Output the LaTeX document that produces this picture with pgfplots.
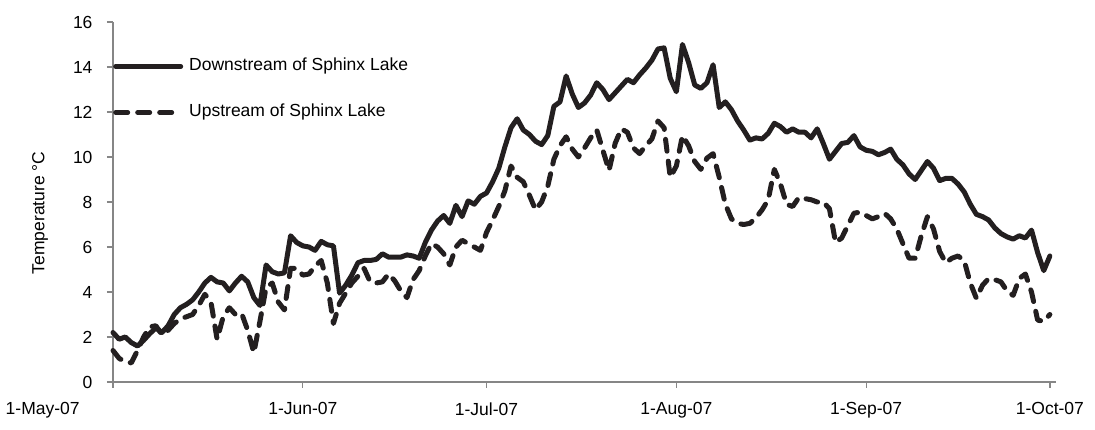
\documentclass[border=0pt]{standalone}
\usepackage{pgfplots}
\pgfplotsset{compat=1.18}
\usepackage{pgfplotstable}
\usepackage{fontspec}
\setmainfont{Liberation Sans}
\definecolor{axisgray}{RGB}{134,134,134}
\definecolor{ink}{RGB}{35,31,32}
\pgfplotstableread{
d down
0 2.2
1 1.9
2 2.0
3 1.75
4 1.6
5 1.85
6 2.15
7 2.4
8 2.2
9 2.5
10 3.0
11 3.3
12 3.45
13 3.65
14 4.0
15 4.4
16 4.65
17 4.45
18 4.4
19 4.05
20 4.4
21 4.7
22 4.45
23 3.75
24 3.4
25 5.2
26 4.9
27 4.8
28 4.85
29 6.5
30 6.2
31 6.05
32 6.0
33 5.85
34 6.25
35 6.1
36 6.05
37 3.95
38 4.3
39 4.75
40 5.3
41 5.4
42 5.4
43 5.45
44 5.7
45 5.55
46 5.55
47 5.55
48 5.65
49 5.6
50 5.5
51 6.2
52 6.75
53 7.15
54 7.4
55 7.05
56 7.85
57 7.35
58 8.05
59 7.9
60 8.25
61 8.4
62 8.9
63 9.5
64 10.45
65 11.3
66 11.7
67 11.2
68 11.0
69 10.7
70 10.55
71 10.95
72 12.25
73 12.45
74 13.6
75 12.8
76 12.2
77 12.4
78 12.75
79 13.3
80 13.0
81 12.55
82 12.85
83 13.15
84 13.45
85 13.3
86 13.65
87 13.95
88 14.3
89 14.8
90 14.85
91 13.5
92 12.9
93 15.0
94 14.2
95 13.2
96 13.05
97 13.3
98 14.1
99 12.2
100 12.45
101 12.1
102 11.6
103 11.2
104 10.75
105 10.85
106 10.8
107 11.05
108 11.5
109 11.35
110 11.1
111 11.25
112 11.1
113 11.1
114 10.85
115 11.25
116 10.6
117 9.9
118 10.25
119 10.6
120 10.65
121 10.95
122 10.45
123 10.3
124 10.25
125 10.1
126 10.2
127 10.35
128 9.9
129 9.65
130 9.25
131 9.0
132 9.4
133 9.8
134 9.5
135 8.95
136 9.05
137 9.05
138 8.8
139 8.45
140 7.9
141 7.45
142 7.35
143 7.2
144 6.85
145 6.6
146 6.45
147 6.35
148 6.5
149 6.4
150 6.75
151 5.75
152 4.95
153 5.6
}\downdata
\pgfplotstableread{
d up
0 1.4
1 1.05
2 0.9
3 0.85
4 1.4
5 2.0
6 2.45
7 2.5
8 2.1
9 2.3
10 2.6
11 2.8
12 2.9
13 3.0
14 3.4
15 3.9
16 3.55
17 1.9
18 2.9
19 3.3
20 3.0
21 3.05
22 2.3
23 1.3
24 2.7
25 4.2
26 4.4
27 3.55
28 3.2
29 5.05
30 5.05
31 4.75
32 4.8
33 5.15
34 5.4
35 4.4
36 2.6
37 3.5
38 3.95
39 4.4
40 4.7
41 5.05
42 4.45
43 4.4
44 4.45
45 4.8
46 4.5
47 4.05
48 3.75
49 4.55
50 4.95
51 5.6
52 6.15
53 6.0
54 5.7
55 5.2
56 6.0
57 6.3
58 6.15
59 6.0
60 5.85
61 6.65
62 7.2
63 7.8
64 8.5
65 9.6
66 9.1
67 8.9
68 8.3
69 7.65
70 8.0
71 8.7
72 9.9
73 10.5
74 10.9
75 10.35
76 10.0
77 10.4
78 10.85
79 11.2
80 10.3
81 9.4
82 10.6
83 11.25
84 11.1
85 10.4
86 10.15
87 10.5
88 10.8
89 11.6
90 11.3
91 9.1
92 9.6
93 10.95
94 10.5
95 9.8
96 9.45
97 9.95
98 10.15
99 9.1
100 7.9
101 7.25
102 7.05
103 7.0
104 7.05
105 7.3
106 7.65
107 8.1
108 9.45
109 8.8
110 7.9
111 7.8
112 8.2
113 8.15
114 8.1
115 8.0
116 8.0
117 7.7
118 6.2
119 6.4
120 6.95
121 7.5
122 7.55
123 7.4
124 7.25
125 7.35
126 7.5
127 7.25
128 6.8
129 6.15
130 5.5
131 5.5
132 6.5
133 7.35
134 6.8
135 5.8
136 5.3
137 5.5
138 5.6
139 5.4
140 4.4
141 3.72
142 4.3
143 4.6
144 4.55
145 4.45
146 4.05
147 3.85
148 4.6
149 4.8
150 4.0
151 2.75
152 2.7
153 3.0
}\updata
\begin{document}
\begin{tikzpicture}[x=1pt,y=1pt,font=\fontsize{17.5}{21}\selectfont]
\path[use as bounding box] (0,0) rectangle (1095,430);
\begin{axis}[
  at={(113pt,48pt)}, anchor=south west,
  scale only axis, width=943pt, height=360pt,
  xmin=0, xmax=154, ymin=0, ymax=16,
  axis x line=bottom, axis y line=left,
  axis line style={-, draw=axisgray, line width=1.3pt},
  ytick={0,2,...,16},
  xtick={0,31,61,92,123,153},
  xticklabels={},
  tick align=outside, major tick length=6pt,
  tick style={draw=axisgray, line width=1.3pt},
  /pgf/number format/assume math mode=true,
  yticklabel style={font=\fontsize{17.5}{21}\selectfont, text=black, xshift=-11pt},
  ylabel={Temperature °C},
  ylabel style={at={(axis description cs:-0.0774,0.47)}, anchor=center, font=\fontsize{17.5}{21}\selectfont},
  clip=false,
  legend style={at={(axis description cs:0,0.8125)}, anchor=west, draw=none, fill=none,
    inner sep=0pt, row sep=30pt, font=\fontsize{17.5}{21}\selectfont,
    nodes={inner sep=0pt, text height=12.5pt, text depth=3.5pt}},
  /tikz/every odd column/.append style={column sep=6pt},
  legend cell align=left,
  legend image code/.code={\draw[#1] (2.5pt,0pt) -- (67.5pt,0pt);},
]
\addplot[ink, line width=5pt, line join=round, line cap=round] table[x=d,y=down] {\downdata};
\addlegendentry{Downstream of Sphinx Lake}
\addplot[ink, line width=5pt, line join=round, line cap=round, dash pattern=on 12pt off 10pt] table[x=d,y=up] {\updata};
\addlegendentry{Upstream of Sphinx Lake}
\node[anchor=north west] at (axis cs:-18.1,0) [yshift=-17pt] {1-May-07};
\node[anchor=north] at (axis cs:31,0) [yshift=-17pt] {1-Jun-07};
\node[anchor=north] at (axis cs:61,0) [yshift=-17pt] {1-Jul-07};
\node[anchor=north] at (axis cs:92,0) [yshift=-17pt] {1-Aug-07};
\node[anchor=north] at (axis cs:123,0) [yshift=-17pt] {1-Sep-07};
\node[anchor=north] at (axis cs:153,0) [yshift=-17pt] {1-Oct-07};
\end{axis}
\end{tikzpicture}
\end{document}
